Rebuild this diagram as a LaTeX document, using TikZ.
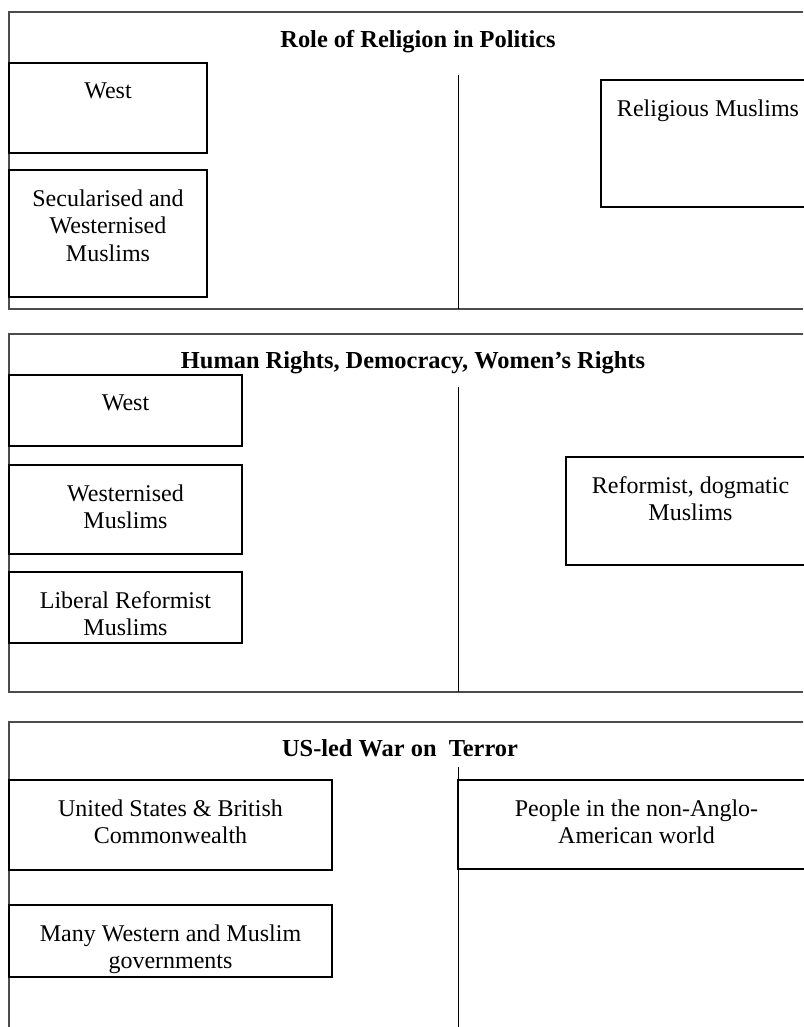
\documentclass[tikz,border=0pt]{standalone}
\usepackage{fontspec}
\setmainfont{Liberation Serif}
\usetikzlibrary{fit}
\tikzstyle{frame}=[draw=black!70, line width=0.7pt]
\tikzstyle{panelbox}=[draw, line width=0.75pt, inner sep=0pt]
\tikzstyle{boxtext}=[inner sep=0pt, align=center, anchor=north, font=\fontsize{12}{13.75}\selectfont]
\tikzstyle{heading}=[inner sep=0pt, anchor=base, font=\bfseries\fontsize{12.2}{14}\selectfont]
\tikzstyle{divider}=[draw, line width=0.5pt]
\newcommand{\panelbox}{\node[panelbox]}
\newcommand{\boxtext}{\node[boxtext]}

\begin{document}
\begin{tikzpicture}[x=0.5pt, y=-0.5pt]
            \useasboundingbox (0,0) rectangle (803,1027);

            \draw[frame] (803,12) -- (9,12) -- (9,309) -- (803,309);
            \node[heading] (h1) at (418,48) {Role of Religion in Politics};
            \draw[divider] (458,75) -- (458,309);
            \panelbox (west1) [fit={(9,63) (207,153)}] {};
            \panelbox (secul) [fit={(9,170) (207,297)}] {};
            \panelbox (relig) [fit={(601,80) (815,207)}] {};
            \boxtext (t-west1) at (west1.north |- 0,82) {West};
            \boxtext (t-secul) at (secul.north |- 0,189) {Secularised and\\Westernised\\Muslims};
            \boxtext (t-relig) at (relig.north |- 0,99) {Religious Muslims};

            \draw[frame] (803,334) -- (9,334) -- (9,692) -- (803,692);
            \node[heading] (h2) at (413,368) {Human Rights, Democracy, Women’s Rights};
            \draw[divider] (458,387) -- (458,692);
            \panelbox (west2) [fit={(9,375) (242,446)}] {};
            \panelbox (westn) [fit={(9,465) (242,554)}] {};
            \panelbox (liber) [fit={(9,572) (242,643)}] {};
            \panelbox (reform) [fit={(566,457) (815,565)}] {};
            \boxtext (t-west2) at (west2.north |- 0,394) {West};
            \boxtext (t-westn) at (westn.north |- 0,484) {Westernised\\Muslims};
            \boxtext (t-liber) at (liber.north |- 0,591) {Liberal Reformist\\Muslims};
            \boxtext (t-reform) at (reform.north |- 0,476) {Reformist, dogmatic\\Muslims};

            \draw[frame] (803,722) -- (9,722) -- (9,1027);
            \node[heading] (h3) at (400,756) {US-led War on \ Terror};
            \draw[divider] (458,767) -- (458,1027);
            \panelbox (usbc) [fit={(9,780) (332,870)}] {};
            \panelbox (govs) [fit={(9,905) (332,977)}] {};
            \panelbox (people) [fit={(458,780) (815,869)}] {};
            \boxtext (t-usbc) at (usbc.north |- 0,799) {United States \& British\\Commonwealth};
            \boxtext (t-govs) at (govs.north |- 0,924) {Many Western and Muslim\\governments};
            \boxtext (t-people) at (people.north |- 0,799) {People in the non-Anglo-\\American world};
\end{tikzpicture}
\end{document}
